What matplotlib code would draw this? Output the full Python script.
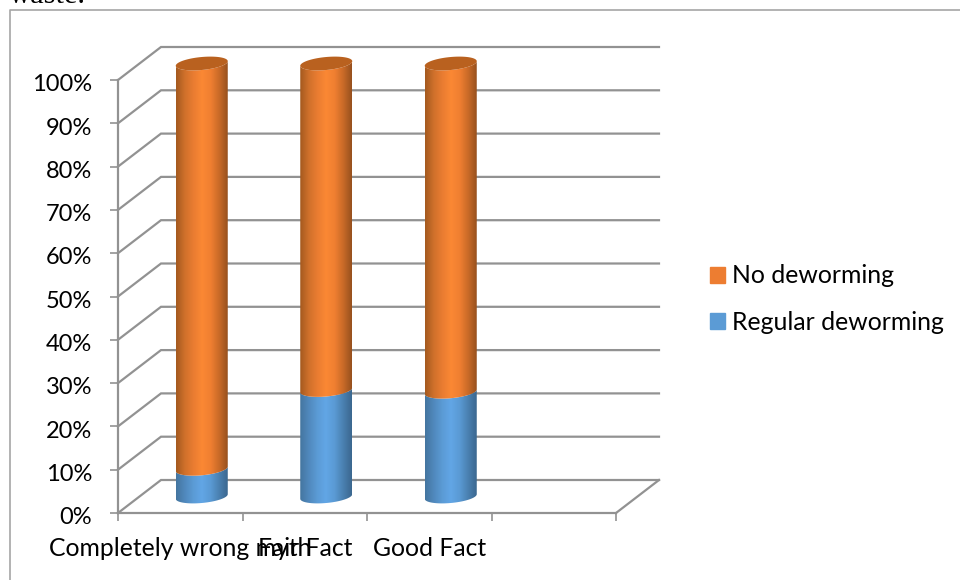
"""Stacked 3D-style cylinder chart of deworming practice by knowledge category."""
import numpy as np
from matplotlib import pyplot as plt
from matplotlib.colors import LinearSegmentedColormap
from matplotlib.lines import Line2D
from matplotlib.patches import Patch, Polygon
from matplotlib.transforms import ScaledTranslation

categories = ['Completely wrong myth', 'Fair Fact', 'Good Fact']
regular_deworming = [6.4, 24.6, 24.2]
no_deworming = [93.6, 75.4, 75.8]
percent_ticks = list(range(0, 101, 10))

W, H = 960, 580
LEFT, RIGHT, TOP, BOTTOM = 118, 616, 80, 513
DEPTH_X, DEPTH_Y = 43, 33   # wall offset, pixels
RX, RY, SHEAR = 26, 6.5, 2.3  # cylinder ellipse, pixels
FONT = 'Lato'
FONT_SIZE = 17.8
GREY = '#929292'

plt.rcParams['font.family'] = [FONT, 'DejaVu Sans']

fig = plt.figure(figsize=(W / 100, H / 100), dpi=100)
ax = fig.add_axes([LEFT / W, 1 - BOTTOM / H, (RIGHT - LEFT) / W, (BOTTOM - TOP) / H])
ax.set_xlim(0, 4)
ax.set_ylim(0, 100)

# pixel sizes expressed in data units
ux = (RIGHT - LEFT) / 4
uy = (BOTTOM - TOP) / 100
dx, dy = DEPTH_X / ux, DEPTH_Y / uy

# gridlines run up the side wall and along the back wall
for value in percent_ticks:
    ax.plot([0, dx, 4 + dx], [value, value + dy, value + dy], color=GREY, lw=1.6,
            clip_on=False, zorder=1, solid_joinstyle='miter')
ax.plot([4, 4 + dx], [0, dy], color=GREY, lw=1.6, clip_on=False, zorder=1)

ax.spines[['top', 'right']].set_visible(False)
ax.spines[['left', 'bottom']].set_color(GREY)
ax.spines[['left', 'bottom']].set_linewidth(1.6)
ax.set_yticks(percent_ticks)
ax.set_yticklabels([f'{v}%' for v in percent_ticks])
ax.set_xticks(range(5))
ax.set_xticklabels([])
ax.set_xticks([i + 0.5 for i in range(len(categories))], minor=True)
ax.set_xticklabels(categories, minor=True)
ax.tick_params(axis='both', which='major', color=GREY, width=1.2, length=6,
               labelsize=FONT_SIZE, pad=4)
ax.tick_params(axis='y', pad=12.6, labelsize=17)
ax.tick_params(axis='x', which='minor', length=0, labelsize=FONT_SIZE, pad=17)

# percent labels sit slightly below their ticks
for label in ax.get_yticklabels():
    label.set_transform(label.get_transform() + ScaledTranslation(0, -2 / 72, fig.dpi_scale_trans))


def lower_arc(cx, cy, reverse=False):
    """Front half of a sheared cylinder ring, left to right."""
    t = np.linspace(np.pi, 2 * np.pi, 60)
    x = cx + RX / ux * np.cos(t)
    y = cy + (RY * np.sin(t) + SHEAR * np.cos(t)) / uy
    return (x[::-1], y[::-1]) if reverse else (x, y)


def draw_segment(cx, y0, y1, colors):
    """One cylinder section shaded across its width."""
    xa, ya = lower_arc(cx, y0)
    xb, yb = lower_arc(cx, y1, reverse=True)
    outline = Polygon(np.column_stack([np.r_[xa, xb], np.r_[ya, yb]]), closed=True,
                      transform=ax.transData)
    cmap = LinearSegmentedColormap.from_list('shade', colors)
    im = ax.imshow(np.linspace(0, 1, 256).reshape(1, -1), cmap=cmap, aspect='auto',
                   extent=[cx - RX / ux, cx + RX / ux, y0 - 2 * RY / uy, y1 + 2 * RY / uy],
                   zorder=3)
    im.set_clip_path(outline)
    im.set_clip_box(fig.bbox)


ORANGE_SHADE = ['#a3591f', '#cf702b', '#e97c31', '#fb8834', '#f07f31', '#c96a28', '#96501e']
BLUE_SHADE = ['#44759f', '#5088bc', '#5b9bd5', '#62a6e6', '#5a9ad4', '#4a80b0', '#3b678f']

for i, (low, high) in enumerate(zip(regular_deworming, no_deworming)):
    cx = i + 0.5 + dx / 2
    base = dy / 2
    draw_segment(cx, base, base + low, BLUE_SHADE)
    draw_segment(cx, base + low, base + low + high, ORANGE_SHADE)
    # lid of the cylinder
    t = np.linspace(0, 2 * np.pi, 120)
    top = base + low + high
    ax.fill(cx + RX / ux * np.cos(t), top + (RY * np.sin(t) + SHEAR * np.cos(t)) / uy,
            color='#b9611f', clip_on=False, zorder=4, lw=0)

ax.set_xlim(0, 4)
ax.set_ylim(0, 100)

handles = [Patch(color='#ed7d31', label='No deworming'),
           Patch(color='#5b9bd5', label='Regular deworming')]
fig.legend(handles=handles, loc='center left', bbox_to_anchor=(710 / W, 1 - 299 / H),
           frameon=False, fontsize=FONT_SIZE, handlelength=0.62, handleheight=0.62,
           handletextpad=0.28, labelspacing=0.95, borderpad=0, borderaxespad=0)

# surrounding frame, open to the right and bottom
fig.add_artist(Line2D([10 / W, 10 / W, 1], [0, 1 - 10 / H, 1 - 10 / H], color='#a6a6a6', lw=1.2))
fig.text(9 / W, 1 - 3 / H, 'waste.', family='Liberation Serif', fontsize=22, color='black',
         va='baseline')

fig.savefig('out.png', dpi=100)
